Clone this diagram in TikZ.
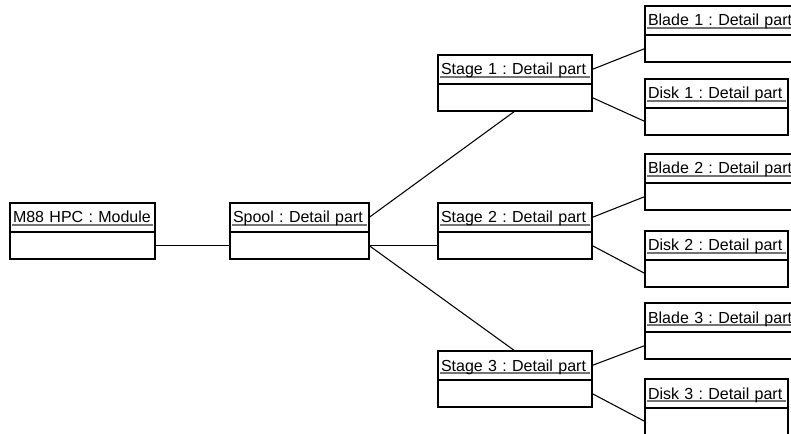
\documentclass[tikz,border=0pt]{standalone}
\usepackage{fontspec}
\setmainfont{Liberation Sans}
\usetikzlibrary{positioning}
\frenchspacing

\begin{document}
\begin{tikzpicture}[
    x=0.75pt, y=-0.75pt,
    node distance=0pt,
    namebox/.style={rectangle, draw, line width=1.2pt, anchor=north west, outer sep=0pt,
        inner xsep=2.25pt, inner ysep=0pt, text width=#1, text height=15pt, text depth=6.75pt,
        align=left, font=\fontsize{12pt}{14pt}\selectfont,
        path picture={\draw[black!55, line width=0.8pt]
            ([shift={(1.5pt,5.25pt)}]path picture bounding box.south west) --
            ([shift={(-1.5pt,5.25pt)}]path picture bounding box.south east);}},
    slotbox/.style={rectangle, draw, line width=1.2pt, outer sep=0pt, inner sep=0pt,
        minimum width=#1, minimum height=20.25pt},
    link/.style={line width=0.8pt}
]
\useasboundingbox (0,0) rectangle (791,434);
\clip (0,0) rectangle (791,434);

% objects
\node[namebox=104.25pt] (module) at (10,203) {M88 HPC : Module};
\node[slotbox=108.75pt, below=of module] (module-b) {};
\node[namebox=99.75pt] (spool) at (230,203) {Spool : Detail part};
\node[slotbox=104.25pt, below=of spool] (spool-b) {};

\node[namebox=111pt] (stage1) at (438,55) {Stage 1 : Detail part};
\node[slotbox=115.5pt, below=of stage1] (stage1-b) {};
\node[namebox=111pt] (stage2) at (438,203) {Stage 2 : Detail part};
\node[slotbox=115.5pt, below=of stage2] (stage2-b) {};
\node[namebox=111pt] (stage3) at (438,351) {Stage 3 : Detail part};
\node[slotbox=115.5pt, below=of stage3] (stage3-b) {};

\node[namebox=115.5pt] (blade1) at (645,6) {Blade 1 : Detail part};
\node[slotbox=120pt, below=of blade1] (blade1-b) {};
\node[namebox=102.75pt] (disk1) at (645,79) {Disk 1 : Detail part};
\node[slotbox=107.25pt, below=of disk1] (disk1-b) {};
\node[namebox=115.5pt] (blade2) at (645,154) {Blade 2 : Detail part};
\node[slotbox=120pt, below=of blade2] (blade2-b) {};
\node[namebox=102.75pt] (disk2) at (645,231) {Disk 2 : Detail part};
\node[slotbox=107.25pt, below=of disk2] (disk2-b) {};
\node[namebox=115.5pt] (blade3) at (645,303) {Blade 3 : Detail part};
\node[slotbox=120pt, below=of blade3] (blade3-b) {};
\node[namebox=102.75pt] (disk3) at (645,379) {Disk 3 : Detail part};
\node[slotbox=107.25pt, below=of disk3] (disk3-b) {};

% links
\draw[link] (module-b.east) -- (spool-b.west);
\draw[link] (spool.east) -- (stage1-b.south);
\draw[link] (spool-b.east) -- (stage2-b.west);
\draw[link] (spool-b.east) -- (stage3.north);

\draw[link] (stage1.east) -- (blade1-b.west);
\draw[link] (stage1-b.east) -- (disk1-b.west);
\draw[link] (stage2.east) -- (blade2-b.west);
\draw[link] (stage2-b.east) -- (disk2-b.west);
\draw[link] (stage3.east) -- (blade3-b.west);
\draw[link] (stage3-b.east) -- (disk3-b.west);
\end{tikzpicture}
\end{document}
